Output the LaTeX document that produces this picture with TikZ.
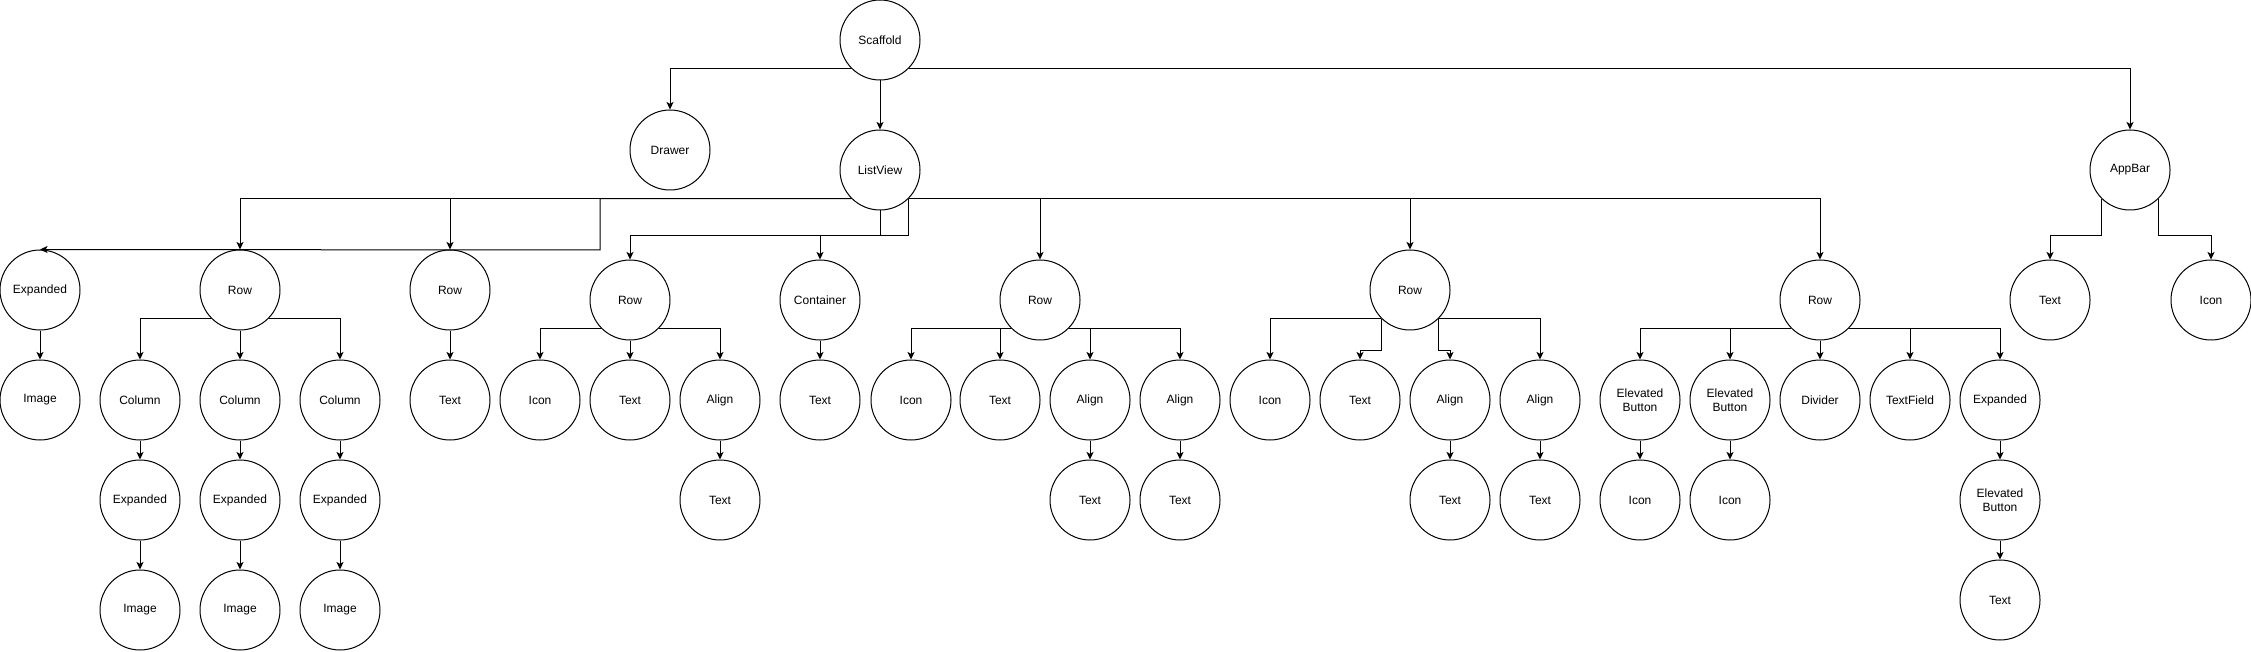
\documentclass[tikz,border=0pt]{standalone}
\usepackage{fontspec}
\setmainfont{Liberation Sans}
\usetikzlibrary{arrows.meta}

\tikzset{
    widget/.style={draw, circle, minimum size=80pt, inner sep=0pt, line width=1pt, align=center, font=\fontsize{12}{14.5}\selectfont},
    edge/.style={-{Stealth[length=7.5pt,width=7pt,inset=1.8pt]}, line width=1pt}
}

\begin{document}
\begin{tikzpicture}[x=1pt,y=-1pt]
    \useasboundingbox (0,0) rectangle (2251,652);
    % Top levels
    \node[widget] (scaffold) at (880,40) {Scaffold};
    \node[widget] (drawer) at (670,150) {Drawer};
    \node[widget] (listview) at (880,170) {ListView};
    \node[widget] (appbar) at (2130,170) {AppBar};

    % ListView children
    \node[widget] (exp1) at (40,290) {Expanded};
    \node[widget] (row1) at (240,290) {Row};
    \node[widget] (row2) at (450,290) {Row};
    \node[widget] (row3) at (630,300) {Row};
    \node[widget] (cont) at (820,300) {Container};
    \node[widget] (row4) at (1040,300) {Row};
    \node[widget] (row5) at (1410,290) {Row};
    \node[widget] (row6) at (1820,300) {Row};
    % AppBar children
    \node[widget] (abtext) at (2050,300) {Text};
    \node[widget] (abicon) at (2211,300) {Icon};

    % Third level
    \node[widget] (img1) at (40,400) {Image};
    \node[widget] (col1) at (140,400) {Column};
    \node[widget] (col2) at (240,400) {Column};
    \node[widget] (col3) at (340,400) {Column};
    \node[widget] (text2) at (450,400) {Text};
    \node[widget] (icon3) at (540,400) {Icon};
    \node[widget] (text3) at (630,400) {Text};
    \node[widget] (align3) at (720,400) {Align};
    \node[widget] (textc) at (820,400) {Text};
    \node[widget] (icon4) at (911,400) {Icon};
    \node[widget] (text4) at (1000,400) {Text};
    \node[widget] (align4a) at (1090,400) {Align};
    \node[widget] (align4b) at (1180,400) {Align};
    \node[widget] (icon5) at (1270,400) {Icon};
    \node[widget] (text5) at (1360,400) {Text};
    \node[widget] (align5a) at (1450,400) {Align};
    \node[widget] (align5b) at (1540,400) {Align};
    \node[widget] (btn6a) at (1640,400) {Elevated\\Button};
    \node[widget] (btn6b) at (1730,400) {Elevated\\Button};
    \node[widget] (div6) at (1820,400) {Divider};
    \node[widget] (field6) at (1910,400) {TextField};
    \node[widget] (exp6) at (2000,400) {Expanded};

    % Fourth and fifth level
    \node[widget] (exp1a) at (140,500) {Expanded};
    \node[widget] (exp1b) at (240,500) {Expanded};
    \node[widget] (exp1c) at (340,500) {Expanded};
    \node[widget] (img1a) at (140,610) {Image};
    \node[widget] (img1b) at (240,610) {Image};
    \node[widget] (img1c) at (340,610) {Image};
    \node[widget] (text3a) at (720,500) {Text};
    \node[widget] (text4a) at (1090,500) {Text};
    \node[widget] (text4b) at (1180,500) {Text};
    \node[widget] (text5a) at (1450,500) {Text};
    \node[widget] (text5b) at (1540,500) {Text};
    \node[widget] (icon6a) at (1640,500) {Icon};
    \node[widget] (icon6b) at (1730,500) {Icon};
    \node[widget] (btn6c) at (2000,500) {Elevated\\Button};
    \node[widget] (text6) at (2000,600) {Text};

    % Scaffold
    \draw[edge] (scaffold.south west) -| (drawer.north);
    \draw[edge] (scaffold.south) -- (listview.north);
    \draw[edge] (scaffold.south east) -| (appbar.north);

    % ListView
    \draw[edge] (listview.south west) -| (600,250) -- (exp1.north);
    \draw[edge] (listview.south west) -| (row1.north);
    \draw[edge] (listview.south west) -| (row2.north);
    \draw[edge] (listview.south east) -- ++(0,36.7) -| (row3.north);
    \draw[edge] (listview.south) -- ++(0,25) -| (cont.north);
    \draw[edge] (listview.south east) -| (row4.north);
    \draw[edge] (listview.south east) -| (row5.north);
    \draw[edge] (listview.south east) -| (row6.north);

    % AppBar
    \draw[edge] (appbar.south west) -- ++(0,36.7) -| (abtext.north);
    \draw[edge] (appbar.south east) -- ++(0,36.7) -| (abicon.north);

    % Expanded and rows
    \draw[edge] (exp1.south) -- (img1.north);
    \draw[edge] (row1.south west) -| (col1.north);
    \draw[edge] (row1.south) -- (col2.north);
    \draw[edge] (row1.south east) -| (col3.north);
    \draw[edge] (col1.south) -- (exp1a.north);
    \draw[edge] (col2.south) -- (exp1b.north);
    \draw[edge] (col3.south) -- (exp1c.north);
    \draw[edge] (exp1a.south) -- (img1a.north);
    \draw[edge] (exp1b.south) -- (img1b.north);
    \draw[edge] (exp1c.south) -- (img1c.north);
    \draw[edge] (row2.south) -- (text2.north);

    \draw[edge] (row3.south west) -| (icon3.north);
    \draw[edge] (row3.south) -- (text3.north);
    \draw[edge] (row3.south east) -| (align3.north);
    \draw[edge] (align3.south) -- (text3a.north);
    \draw[edge] (cont.south) -- (textc.north);

    \draw[edge] (row4.south west) -| (icon4.north);
    \draw[edge] (row4.south west) -| (text4.north);
    \draw[edge] (row4.south east) -| (align4a.north);
    \draw[edge] (row4.south east) -| (align4b.north);
    \draw[edge] (align4a.south) -- (text4a.north);
    \draw[edge] (align4b.south) -- (text4b.north);

    \draw[edge] (row5.south west) -| (icon5.north);
    \draw[edge] (row5.south west) -- ++(0,31.7) -| (text5.north);
    \draw[edge] (row5.south east) -- ++(0,31.7) -| (align5a.north);
    \draw[edge] (row5.south east) -| (align5b.north);
    \draw[edge] (align5a.south) -- (text5a.north);
    \draw[edge] (align5b.south) -- (text5b.north);

    \draw[edge] (row6.south west) -| (btn6a.north);
    \draw[edge] (row6.south west) -| (btn6b.north);
    \draw[edge] (row6.south) -- (div6.north);
    \draw[edge] (row6.south east) -| (field6.north);
    \draw[edge] (row6.south east) -| (exp6.north);
    \draw[edge] (btn6a.south) -- (icon6a.north);
    \draw[edge] (btn6b.south) -- (icon6b.north);
    \draw[edge] (exp6.south) -- (btn6c.north);
    \draw[edge] (btn6c.south) -- (text6.north);
\end{tikzpicture}
\end{document}
